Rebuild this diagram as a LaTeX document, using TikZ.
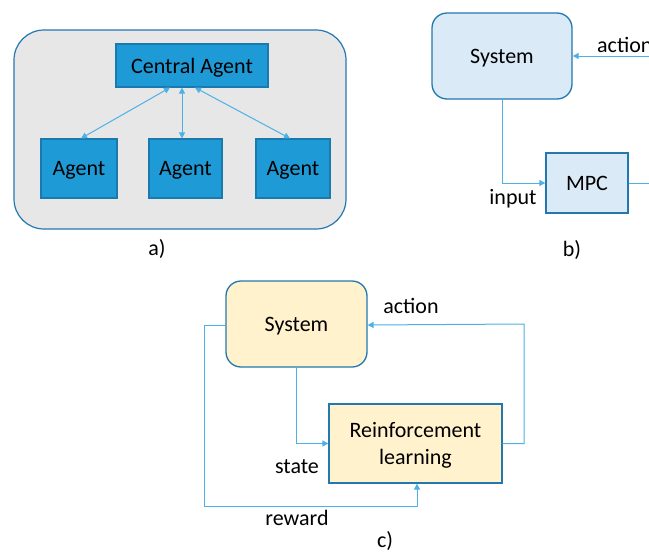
\documentclass[tikz,border=0pt]{standalone}
\usepackage{fontspec}
\setmainfont{Carlito}
\usetikzlibrary{arrows.meta,calc}

\definecolor{agentfill}{HTML}{1E9AD6}
\definecolor{agentline}{HTML}{1A7AAE}
\definecolor{boxline}{HTML}{2478B0}
\definecolor{wire}{HTML}{4DB0E6}
\definecolor{panelgray}{HTML}{E7E7E7}
\definecolor{paleblue}{HTML}{DAEBF7}
\definecolor{paleyellow}{HTML}{FFF2CC}

\tikzset{
  lbl/.style={font=\fontsize{22}{26}\selectfont, inner sep=0pt},
  boxtext/.style={lbl, text depth=0pt},
  agentbox/.style={draw=agentline, fill=agentfill, line width=1.2pt, boxtext},
  sysbox/.style={draw=boxline, line width=1.3pt, boxtext, rounded corners=15pt},
  ctrlbox/.style={draw=boxline, line width=1.3pt, boxtext, align=center},
  wireline/.style={draw=wire, line width=1pt},
  tip/.style={-{Triangle[width=6pt,length=6pt]}},
  tips/.style={{Triangle[width=6pt,length=6pt]}-{Triangle[width=6pt,length=6pt]}},
}

\begin{document}
\begin{tikzpicture}[x=1pt, y=-1pt]
\useasboundingbox (0,0) rectangle (649,552);
\clip (0,0) rectangle (649,552);
\fill[white] (0,0) rectangle (649,552);

% ---------- a) multi-agent ----------
\draw[fill=panelgray, draw=boxline, line width=1.2pt, rounded corners=30pt]
  (14,30) rectangle (346,229);
\node[agentbox, minimum width=152pt, minimum height=43pt] (ca) at (192,65.5) {Central Agent};
\node[agentbox, minimum width=76pt, minimum height=59pt] (ag1) at (79,168.5) {Agent};
\node[agentbox, minimum width=73pt, minimum height=59pt] (ag2) at (185.5,168.5) {Agent};
\node[agentbox, minimum width=74pt, minimum height=59pt] (ag3) at (293,168.5) {Agent};
\draw[wireline, tips] ([xshift=-22pt]ca.south) -- ([xshift=2pt]ag1.north);
\draw[wireline, tips] ([xshift=-10pt]ca.south) -- ([xshift=-3.5pt]ag2.north);
\draw[wireline, tips] ([xshift=3pt]ca.south) -- ([xshift=-3pt]ag3.north);
\node[lbl] (capa) at (157,249) {a)};

% ---------- b) MPC ----------
\node[sysbox, fill=paleblue, minimum width=140pt, minimum height=86pt] (sysb) at (502,56) {System};
\node[ctrlbox, fill=paleblue, minimum width=82pt, minimum height=60pt] (mpc) at (587,183) {MPC};
\coordinate (bright) at (660,56);
\coordinate (mright) at (660,183);
\draw[wireline, tip] (bright) -- (sysb.east |- bright);
\draw[wireline, tip] (sysb.south) |- (mpc.west);
\draw[wireline] (mpc.east) -- (mright);
\node[lbl, anchor=west] (actb) at (597,45) {action};
\node[lbl] (inb) at (513,199) {input};
\node[lbl] (capb) at (572,250) {b)};

% ---------- c) reinforcement learning ----------
\node[sysbox, fill=paleyellow, minimum width=141pt, minimum height=86pt] (sysc) at (296.5,324) {System};
\node[ctrlbox, fill=paleyellow, minimum width=173pt, minimum height=79pt,
      font=\fontsize{22}{27}\selectfont] (rl) at (415.5,443.5) {Reinforcement\\learning};
\coordinate (cr) at (524,0);
\coordinate (cl) at (204,0);
\coordinate (cb) at (0,506);
\draw[wireline, tip] (rl.east) -| (cr |- sysc.east) -- ([yshift=-1pt]sysc.east);
\draw[wireline, tip] (sysc.south) |- (rl.west);
\draw[wireline, tip] ([yshift=-1pt]sysc.west) -| (cl |- cb) -| ([xshift=1.5pt]rl.south);
\node[lbl] (actc) at (411,306) {action};
\node[lbl] (stc) at (297,467) {state};
\node[lbl] (rwc) at (297,518) {reward};
\node[lbl] (capc) at (385,541) {c)};
\end{tikzpicture}
\end{document}
